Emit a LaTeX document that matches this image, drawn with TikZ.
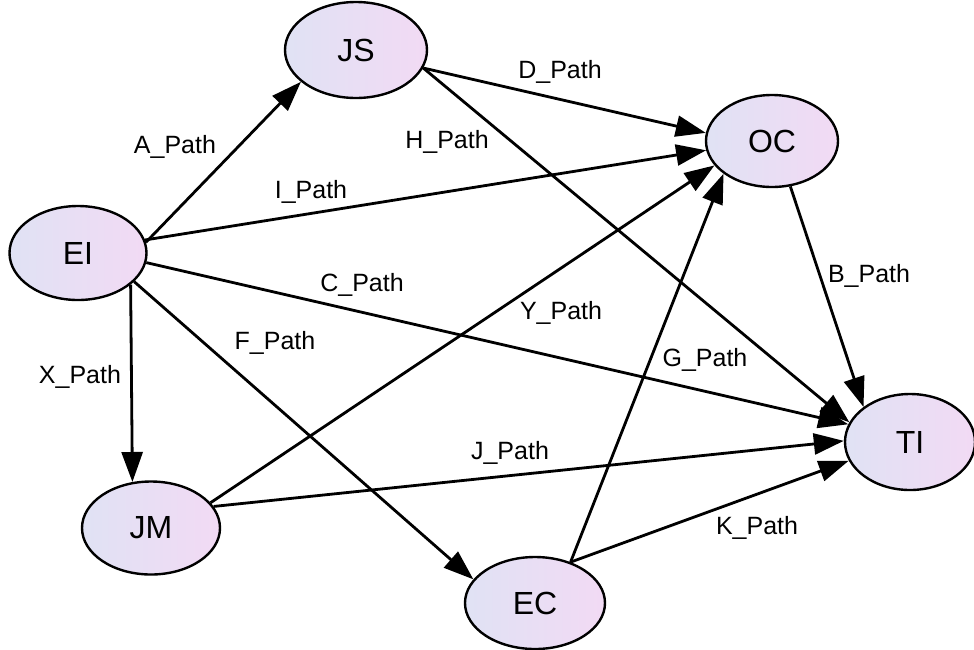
\documentclass[tikz,border=0pt]{standalone}
\usepackage{fontspec}
\setmainfont{Liberation Sans}
\usetikzlibrary{shapes.geometric,arrows.meta}
\definecolor{nodeleft}{RGB}{224,226,244}
\definecolor{noderight}{RGB}{242,218,244}

\begin{document}
\begin{tikzpicture}[x=0.5pt, y=-0.5pt, >={Triangle[length=15pt, width=10.5pt]},
  var/.style={draw, ellipse, line width=1.2pt, left color=nodeleft, right color=noderight,
    minimum width=68.5pt, minimum height=47pt, inner sep=0pt, font=\fontsize{16}{18}\selectfont},
  lbl/.style={font=\fontsize{12.5}{14}\selectfont, inner sep=1pt},
  edge/.style={->, line width=1.4pt}]
\useasboundingbox (0,0) rectangle (974,649);

\node[var] (EI) at (78, 253) {EI};
\node[var, minimum width=71pt, minimum height=48pt] (JS) at (356, 50) {JS};
\node[var, minimum width=66pt, minimum height=46pt] (OC) at (772, 141) {OC};
\node[var, minimum width=65pt, minimum height=48pt] (TI) at (910, 442) {TI};
\node[var, minimum width=69pt, minimum height=46.5pt] (JM) at (151, 528) {JM};
\node[var, minimum width=70pt, minimum height=46pt] (EC) at (535, 603) {EC};

% from EI
\draw[edge] (EI.9) -- (JS.210);
\draw[edge] (EI.11) -- (OC.188);
\draw[edge] (EI.-8) -- (TI.164);
\draw[edge] (EI.-31) -- (JM.112);
\draw[edge] (EI.-27) -- (EC.159);

% from JS
\draw[edge] (JS.-15) -- (OC.173);
\draw[edge] (JS.-15) -- (TI.162);

% from JM
\draw[edge] (JM.23) -- (OC.203);
\draw[edge] (JM.19) -- (TI.179);

% from EC
\draw[edge] (EC.49) -- (OC.214);
\draw[edge] (EC.49) -- (TI.197);

% from OC
\draw[edge] (OC.-68) -- (TI.143);

\node[lbl] (a) at (175, 147) {A\_Path};
\node[lbl] (d) at (560, 72) {D\_Path};
\node[lbl] (h) at (447, 142) {H\_Path};
\node[lbl] (i) at (311, 192) {I\_Path};
\node[lbl] (c) at (362, 285) {C\_Path};
\node[lbl] (f) at (275, 343) {F\_Path};
\node[lbl] (y) at (561, 313) {Y\_Path};
\node[lbl] (x) at (80, 377) {X\_Path};
\node[lbl] (g) at (705, 360) {G\_Path};
\node[lbl] (b) at (869, 276) {B\_Path};
\node[lbl] (j) at (510, 453) {J\_Path};
\node[lbl] (k) at (757, 528) {K\_Path};
\end{tikzpicture}
\end{document}
